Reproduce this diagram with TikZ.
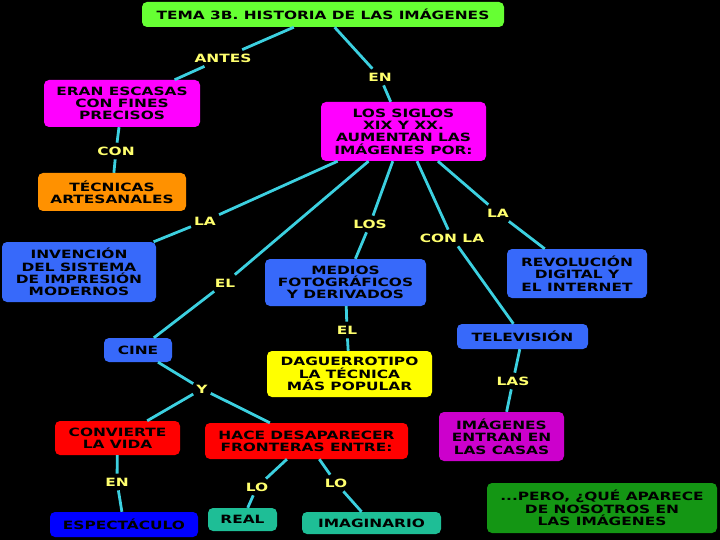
\documentclass[tikz,border=0pt]{standalone}
\usepackage{fontspec}
\setmainfont{DejaVu Sans}[FakeStretch=1.35]
\usepackage{xcolor}
\usepackage{tikz}
\definecolor{linkcyan}{RGB}{60,208,224}
\definecolor{linkyellow}{RGB}{255,255,110}
\definecolor{titlegreen}{RGB}{102,255,51}
\definecolor{cmagenta}{RGB}{255,0,255}
\definecolor{cpurple}{RGB}{204,0,204}
\definecolor{corange}{RGB}{255,145,0}
\definecolor{cblue}{RGB}{55,105,250}
\definecolor{cdeepblue}{RGB}{0,0,255}
\definecolor{cyellow}{RGB}{255,255,0}
\definecolor{cred}{RGB}{255,0,0}
\definecolor{cteal}{RGB}{30,190,150}
\definecolor{cgreen}{RGB}{20,150,20}

\begin{document}
\begin{tikzpicture}[x=1pt,y=1pt]
\tikzstyle{concept}=[rounded corners=5pt, align=center, text=black, inner sep=0pt, font=\fontsize{11.4}{12.3}\selectfont\bfseries]
\tikzstyle{link}=[text=linkyellow, inner xsep=3pt, inner ysep=4pt, text height=8.3pt, text depth=0pt, font=\fontsize{11.4}{12.3}\selectfont\bfseries]
\tikzstyle{edge}=[linkcyan, line width=2.8pt]
\fill [black] (0,0) rectangle (720,-540);
\node [concept, fill=titlegreen, minimum width=362pt, minimum height=25pt] (tema) at (323,-14.5) {TEMA 3B. HISTORIA DE LAS IMÁGENES};
\node [concept, fill=cmagenta, minimum width=156pt, minimum height=47pt] (eran) at (122,-103.5) {ERAN ESCASAS\\CON FINES\\PRECISOS};
\node [concept, fill=corange, minimum width=148pt, minimum height=38pt] (tecnicas) at (112,-192) {TÉCNICAS\\ARTESANALES};
\node [concept, fill=cmagenta, minimum width=165pt, minimum height=59pt] (siglos) at (403.5,-131.5) {LOS SIGLOS\\XIX Y XX.\\AUMENTAN LAS\\IMÁGENES POR:};
\node [concept, fill=cblue, minimum width=154pt, minimum height=60pt] (invencion) at (79,-272) {INVENCIÓN\\DEL SISTEMA\\DE IMPRESIÓN\\MODERNOS};
\node [concept, fill=cblue, minimum width=161pt, minimum height=47pt] (medios) at (345.5,-282.5) {MEDIOS\\FOTOGRÁFICOS\\Y DERIVADOS};
\node [concept, fill=cblue, minimum width=140pt, minimum height=49pt] (revolucion) at (577,-273.5) {REVOLUCIÓN\\DIGITAL Y\\EL INTERNET};
\node [concept, fill=cblue, minimum width=68pt, minimum height=24pt] (cine) at (138,-350) {CINE};
\node [concept, fill=cyellow, minimum width=165pt, minimum height=46pt] (daguerrotipo) at (349.5,-374) {DAGUERROTIPO\\LA TÉCNICA\\MÁS POPULAR};
\node [concept, fill=cblue, minimum width=131pt, minimum height=25pt] (television) at (522.5,-336.5) {TELEVISIÓN};
\node [concept, fill=cred, minimum width=125pt, minimum height=34pt] (convierte) at (117.5,-438) {CONVIERTE\\LA VIDA};
\node [concept, fill=cred, minimum width=203pt, minimum height=36pt] (hace) at (306.5,-441) {HACE DESAPARECER\\FRONTERAS ENTRE:};
\node [concept, fill=cpurple, minimum width=125pt, minimum height=49pt] (casas) at (501.5,-436.5) {IMÁGENES\\ENTRAN EN\\LAS CASAS};
\node [concept, fill=cgreen, minimum width=230pt, minimum height=50pt] (pero) at (602,-508) {...PERO, ¿QUÉ APARECE\\DE NOSOTROS EN\\LAS IMÁGENES};
\node [concept, fill=cdeepblue, minimum width=148pt, minimum height=25pt] (espectaculo) at (124,-524.5) {ESPECTÁCULO};
\node [concept, fill=cteal, minimum width=69pt, minimum height=23pt] (real) at (242.5,-519.5) {REAL};
\node [concept, fill=cteal, minimum width=139pt, minimum height=22pt] (imaginario) at (371.5,-523) {IMAGINARIO};
\node [link] (antes) at (223,-58) {ANTES};
\node [link] (en) at (380,-77) {EN};
\node [link] (con) at (116,-151) {CON};
\node [link] (la) at (205,-221) {LA};
\node [link] (el) at (225,-283) {EL};
\node [link] (los) at (370,-224) {LOS};
\node [link] (conla) at (452,-238) {CON LA};
\node [link] (lab) at (498,-213) {LA};
\node [link] (elb) at (347,-330) {EL};
\node [link] (y) at (202,-389) {Y};
\node [link] (las) at (513,-381) {LAS};
\node [link] (enb) at (117,-482) {EN};
\node [link] (lo) at (257,-487) {LO};
\node [link] (lob) at (336,-483) {LO};
\draw [edge] (tema) -- (antes) (antes) -- (eran);
\draw [edge] (tema) -- (en) (en) -- (siglos);
\draw [edge] (eran) -- (con) (con) -- (tecnicas);
\draw [edge] (siglos) -- (la) (la) -- (invencion);
\draw [edge] (siglos) -- (el) (el) -- (cine);
\draw [edge] (siglos) -- (los) (los) -- (medios);
\draw [edge] (siglos) -- (conla) (conla) -- (television);
\draw [edge] (siglos) -- (lab) (lab) -- (revolucion);
\draw [edge] (medios) -- (elb) (elb) -- (daguerrotipo);
\draw [edge] (cine) -- (y) (y) -- (convierte) (y) -- (hace);
\draw [edge] (television) -- (las) (las) -- (casas);
\draw [edge] (convierte) -- (enb) (enb) -- (espectaculo);
\draw [edge] (hace) -- (lo) (lo) -- (real);
\draw [edge] (hace) -- (lob) (lob) -- (imaginario);
\end{tikzpicture}
\end{document}
